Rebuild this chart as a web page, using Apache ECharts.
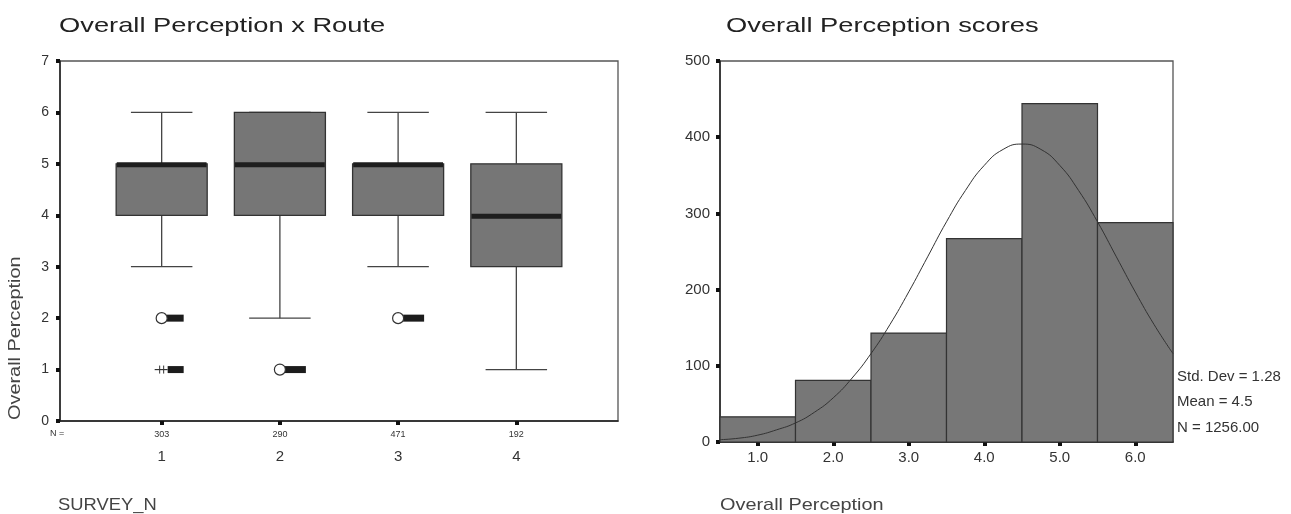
<!DOCTYPE html>
<html>
<head>
<meta charset="utf-8">
<script src="https://cdn.jsdelivr.net/npm/echarts@6/dist/echarts.min.js"></script>
<style>html,body{margin:0;padding:0;background:#fff}#c{width:1291px;height:514px}</style>
</head>
<body>
<div id="c"></div>
<script>
// ---- Box plot data (Overall Perception x Route) ----
var routes = [1, 2, 3, 4];
var routeN = ['303', '290', '471', '192'];
var boxMin = [3, 2, 3, 1];
var boxQ1 = [4, 4, 4, 3];
var boxMedian = [5, 5, 5, 4];
var boxQ3 = [5, 6, 5, 5];
var boxMax = [6, 6, 6, 6];
// outliers: route, value, kind ('o' = outlier, '*' = extreme)
var outlierRoute = [1, 1, 2, 3];
var outlierValue = [2, 1, 1, 2];
var outlierKind = ['o', '*', 'o', 'o'];

// ---- Histogram data (Overall Perception scores) ----
var binCenters = [1, 2, 3, 4, 5, 6];
var binCounts = [33, 81, 143, 267, 444, 288];
var curveX = [0.5,0.75,1,1.25,1.5,1.75,2,2.25,2.5,2.75,3,3.25,3.5,3.75,4,4.25,4.5,4.75,5,5.25,5.5,5.75,6,6.25,6.5];
var curveY = [3,5,9,16,25,39,58,84,116,154,197,243,289,330,363,384,391,384,363,330,289,243,197,154,116];
var histXTicks = [1, 2, 3, 4, 5, 6];
var statsLines = ['Std. Dev = 1.28', 'Mean = 4.5', 'N = 1256.00'];

var FONT = '"Liberation Sans", Arial, sans-serif';
var chart = echarts.init(document.getElementById('c'), null, {renderer: 'canvas'});

var boxData = routes.map(function (r, i) {
  return [r, boxMin[i], boxQ1[i], boxMedian[i], boxQ3[i], boxMax[i]];
});
var outData = outlierRoute.map(function (r, i) { return [r, outlierValue[i]]; });
var histData = binCenters.map(function (c, i) { return [c - 0.5, c + 0.5, binCounts[i]]; });
var curveData = curveX.map(function (x, i) { return [x, curveY[i]]; });

function txt(text, x, y, size, sx, color, rot) {
  return {type: 'text', x: x, y: y, scaleX: sx, rotation: rot || 0,
    style: {text: text, font: size + 'px ' + FONT, fill: color, align: 'left', verticalAlign: 'middle'}};
}

var option = {
  animation: false,
  backgroundColor: '#fff',
  textStyle: {fontFamily: FONT},
  grid: [
    {left: 60, top: 61, width: 558, height: 360, show: true, borderColor: '#555', borderWidth: 1.3, backgroundColor: '#fff'},
    {left: 720, top: 61, width: 453, height: 381, show: true, borderColor: '#555', borderWidth: 1.3, backgroundColor: '#fff'}
  ],
  xAxis: [
    {
      type: 'value', gridIndex: 0, min: 0.14, max: 4.86,
      splitLine: {show: false},
      axisLine: {show: true, lineStyle: {color: '#222', width: 1.5}},
      axisTick: {show: true, customValues: routes, length: 4, lineStyle: {color: '#111', width: 4}},
      axisLabel: {
        customValues: routes, margin: 8, color: '#333',
        formatter: function (v) {
          var i = routes.indexOf(v);
          return '{n|' + routeN[i] + '}\n{c|' + v + '}';
        },
        rich: {n: {fontSize: 9, lineHeight: 12, fontFamily: FONT, color: '#333'},
               c: {fontSize: 15, lineHeight: 32, fontFamily: FONT, color: '#333'}}
      }
    },
    {
      type: 'value', gridIndex: 1, min: 0.5, max: 6.5,
      splitLine: {show: false},
      axisLine: {show: true, lineStyle: {color: '#222', width: 1.5}},
      axisTick: {show: true, customValues: histXTicks, length: 4, lineStyle: {color: '#111', width: 4}},
      axisLabel: {customValues: histXTicks, margin: 8, fontSize: 15, color: '#333', fontFamily: FONT,
        formatter: function (v) { return v.toFixed(1); }}
    }
  ],
  yAxis: [
    {
      type: 'value', gridIndex: 0, min: 0, max: 7, interval: 1,
      splitLine: {show: false},
      axisLine: {show: true, lineStyle: {color: '#222', width: 1.5}},
      axisTick: {show: true, length: 4, lineStyle: {color: '#111', width: 4}},
      axisLabel: {margin: 11, fontSize: 14, color: '#333', fontFamily: FONT}
    },
    {
      type: 'value', gridIndex: 1, min: 0, max: 500, interval: 100,
      splitLine: {show: false},
      axisLine: {show: true, lineStyle: {color: '#222', width: 1.5}},
      axisTick: {show: true, length: 4, lineStyle: {color: '#111', width: 4}},
      axisLabel: {margin: 10, fontSize: 15, color: '#333', fontFamily: FONT}
    }
  ],
  graphic: [
    txt('Overall Perception x Route', 59, 26, 21, 1.3, '#222'),
    txt('Overall Perception scores', 726, 26, 21, 1.3, '#222'),
    txt('Overall Perception', 15, 420, 17, 1.17, '#444', Math.PI / 2),
    txt('N =', 50, 434, 9, 1, '#333'),
    txt('SURVEY_N', 58, 505, 17, 1.08, '#444'),
    txt('Overall Perception', 720, 505, 17, 1.17, '#444'),
    txt(statsLines[0], 1177, 377, 15, 1, '#333'),
    txt(statsLines[1], 1177, 402, 15, 1, '#333'),
    txt(statsLines[2], 1177, 428, 15, 1, '#333')
  ],
  series: [
    {
      type: 'custom', xAxisIndex: 0, yAxisIndex: 0, data: boxData,
      encode: {x: 0, y: [1, 2, 3, 4, 5]},
      renderItem: function (params, api) {
        var x = api.value(0);
        var halfBox = api.size([0.385, 0])[0];
        var halfCap = api.size([0.26, 0])[0];
        var pMin = api.coord([x, api.value(1)]);
        var pQ1 = api.coord([x, api.value(2)]);
        var pMed = api.coord([x, api.value(3)]);
        var pQ3 = api.coord([x, api.value(4)]);
        var pMax = api.coord([x, api.value(5)]);
        var cx = pMin[0];
        var line = {stroke: '#444', lineWidth: 1.3};
        return {type: 'group', children: [
          {type: 'line', shape: {x1: cx, y1: pQ1[1], x2: cx, y2: pMin[1]}, style: line},
          {type: 'line', shape: {x1: cx - halfCap, y1: pMin[1], x2: cx + halfCap, y2: pMin[1]}, style: line},
          {type: 'line', shape: {x1: cx, y1: pQ3[1], x2: cx, y2: pMax[1]}, style: line},
          {type: 'line', shape: {x1: cx - halfCap, y1: pMax[1], x2: cx + halfCap, y2: pMax[1]}, style: line},
          {type: 'rect', shape: {x: cx - halfBox, y: pQ3[1], width: 2 * halfBox, height: pQ1[1] - pQ3[1]},
            style: {fill: '#767676', stroke: '#333', lineWidth: 1.3}},
          {type: 'rect', shape: {x: cx - halfBox + 0.6, y: pMed[1] - 1.5, width: 2 * halfBox - 1.2, height: 5},
            style: {fill: '#1e1e1e'}}
        ]};
      }
    },
    {
      type: 'custom', xAxisIndex: 0, yAxisIndex: 0, data: outData,
      encode: {x: 0, y: 1},
      renderItem: function (params, api) {
        var p = api.coord([api.value(0), api.value(1)]);
        var kind = outlierKind[params.dataIndex];
        var labelW = params.dataIndex < 2 ? 17 : 21;
        var children = [];
        if (kind === 'o') {
          children.push({type: 'rect', shape: {x: p[0] + 5, y: p[1] - 3.5, width: labelW, height: 7}, style: {fill: '#1c1c1c'}});
          children.push({type: 'circle', shape: {cx: p[0], cy: p[1], r: 5.5}, style: {fill: '#fff', stroke: '#333', lineWidth: 1.2}});
        } else {
          children.push({type: 'rect', shape: {x: p[0] + 6, y: p[1] - 3.5, width: labelW - 1, height: 7}, style: {fill: '#1c1c1c'}});
          children.push({type: 'line', shape: {x1: p[0] - 7, y1: p[1], x2: p[0] + 6, y2: p[1]}, style: {stroke: '#333', lineWidth: 1.2}});
          children.push({type: 'line', shape: {x1: p[0] - 2, y1: p[1] - 4, x2: p[0] - 2, y2: p[1] + 4}, style: {stroke: '#333', lineWidth: 1}});
          children.push({type: 'line', shape: {x1: p[0] + 2, y1: p[1] - 4, x2: p[0] + 2, y2: p[1] + 4}, style: {stroke: '#333', lineWidth: 1}});
        }
        return {type: 'group', children: children};
      }
    },
    {
      type: 'custom', xAxisIndex: 1, yAxisIndex: 1, data: histData,
      encode: {x: [0, 1], y: 2},
      renderItem: function (params, api) {
        var p0 = api.coord([api.value(0), api.value(2)]);
        var p1 = api.coord([api.value(1), 0]);
        return {type: 'rect', shape: {x: p0[0], y: p0[1], width: p1[0] - p0[0], height: p1[1] - p0[1]},
          style: {fill: '#777', stroke: '#333', lineWidth: 1.2}};
      }
    },
    {
      type: 'line', xAxisIndex: 1, yAxisIndex: 1, data: curveData, smooth: true, showSymbol: false, symbol: 'none',
      lineStyle: {color: '#333', width: 1}, clip: true, z: 5
    }
  ]
};
chart.setOption(option);
</script>
</body>
</html>
